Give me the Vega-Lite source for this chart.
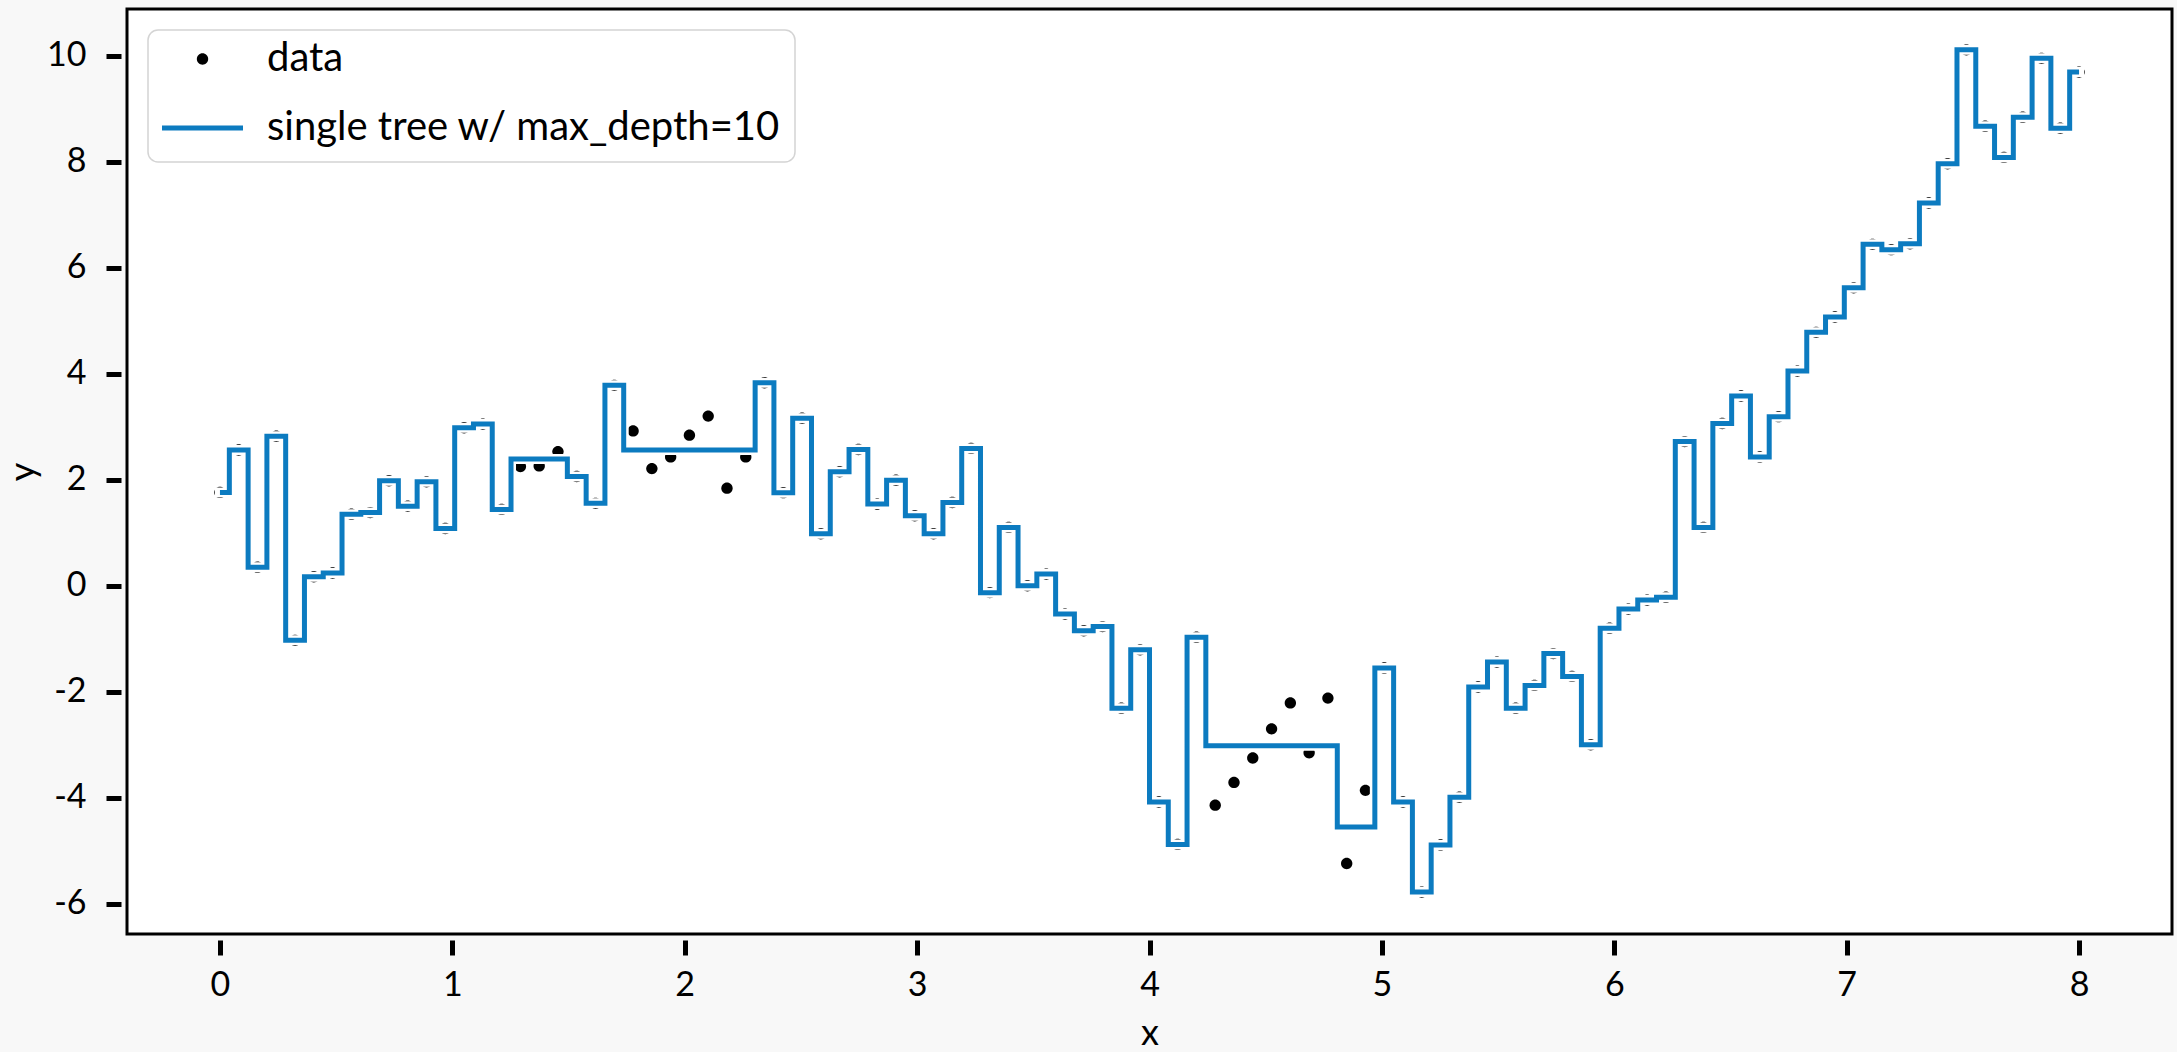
{
  "$schema": "https://vega.github.io/schema/vega-lite/v6.json",
  "width": 2045,
  "height": 925,
  "autosize": {"type": "none"},
  "padding": {"left": 127, "top": 9, "right": 5, "bottom": 118},
  "background": "#f8f8f8",
  "view": {"fill": "white", "stroke": "black", "strokeWidth": 3},
  "config": {
    "font": "Lato",
    "axis": {"domain": false, "grid": false, "ticks": true, "tickColor": "black", "tickWidth": 5, "tickSize": 15, "offset": 6,
      "labelFont": "Lato", "labelFontSize": 34, "labelColor": "black", "labelFlush": false,
      "titleFont": "Lato", "titleFontSize": 36, "titleFontWeight": "normal", "titleColor": "black"},
    "axisX": {"labelPadding": 13, "titlePadding": 14},
    "axisY": {"labelPadding": 20, "titlePadding": 4},
    "legend": {"strokeWidth": 1.5, "strokeColor": "#d4d4d4", "fillColor": "white", "cornerRadius": 10, "padding": 14}
  },
  "datasets": {
    "pts": [
      {"x": 0, "y": 1.76}, {"x": 0.0808, "y": 2.56}, {"x": 0.1616, "y": 0.35}, {"x": 0.2424, "y": 2.82}, {"x": 0.3232, "y": -1.03},
      {"x": 0.4040, "y": 0.17}, {"x": 0.4848, "y": 0.24}, {"x": 0.5657, "y": 1.35}, {"x": 0.6465, "y": 1.38}, {"x": 0.7273, "y": 1.98},
      {"x": 0.8081, "y": 1.50}, {"x": 0.8889, "y": 1.96}, {"x": 0.9697, "y": 1.08}, {"x": 1.0505, "y": 2.98}, {"x": 1.1313, "y": 3.05},
      {"x": 1.2121, "y": 1.44}, {"x": 1.2929, "y": 2.25}, {"x": 1.3737, "y": 2.26}, {"x": 1.4545, "y": 2.53}, {"x": 1.5354, "y": 2.06},
      {"x": 1.6162, "y": 1.555}, {"x": 1.6970, "y": 3.78}, {"x": 1.7778, "y": 2.92}, {"x": 1.8586, "y": 2.21}, {"x": 1.9394, "y": 2.43},
      {"x": 2.0202, "y": 2.84}, {"x": 2.1010, "y": 3.20}, {"x": 2.1818, "y": 1.84}, {"x": 2.2626, "y": 2.43}, {"x": 2.3434, "y": 3.83},
      {"x": 2.4242, "y": 1.755}, {"x": 2.5051, "y": 3.16}, {"x": 2.5859, "y": 0.98}, {"x": 2.6667, "y": 2.15}, {"x": 2.7475, "y": 2.57},
      {"x": 2.8283, "y": 1.54}, {"x": 2.9091, "y": 1.99}, {"x": 2.9899, "y": 1.32}, {"x": 3.0707, "y": 0.98}, {"x": 3.1515, "y": 1.57},
      {"x": 3.2323, "y": 2.59}, {"x": 3.3131, "y": -0.13}, {"x": 3.3939, "y": 1.10}, {"x": 3.4747, "y": 0.0}, {"x": 3.5556, "y": 0.22},
      {"x": 3.6364, "y": -0.535}, {"x": 3.7172, "y": -0.85}, {"x": 3.7980, "y": -0.77}, {"x": 3.8788, "y": -2.31}, {"x": 3.9596, "y": -1.21},
      {"x": 4.0404, "y": -4.08}, {"x": 4.1212, "y": -4.88}, {"x": 4.2020, "y": -0.97}, {"x": 4.2828, "y": -4.14}, {"x": 4.3636, "y": -3.71},
      {"x": 4.4444, "y": -3.25}, {"x": 4.5253, "y": -2.70}, {"x": 4.6061, "y": -2.21}, {"x": 4.6869, "y": -3.15}, {"x": 4.7677, "y": -2.12},
      {"x": 4.8485, "y": -5.24}, {"x": 4.9293, "y": -3.86}, {"x": 5.0101, "y": -1.55}, {"x": 5.0909, "y": -4.08}, {"x": 5.1717, "y": -5.78},
      {"x": 5.2525, "y": -4.89}, {"x": 5.3333, "y": -3.99}, {"x": 5.4141, "y": -1.91}, {"x": 5.4949, "y": -1.44}, {"x": 5.5758, "y": -2.31},
      {"x": 5.6566, "y": -1.88}, {"x": 5.7374, "y": -1.28}, {"x": 5.8182, "y": -1.71}, {"x": 5.8990, "y": -3.0}, {"x": 5.9798, "y": -0.80},
      {"x": 6.0606, "y": -0.44}, {"x": 6.1414, "y": -0.27}, {"x": 6.2222, "y": -0.215}, {"x": 6.3030, "y": 2.72}, {"x": 6.3838, "y": 1.10},
      {"x": 6.4646, "y": 3.06}, {"x": 6.5455, "y": 3.58}, {"x": 6.6263, "y": 2.43}, {"x": 6.7071, "y": 3.19}, {"x": 6.7879, "y": 4.05},
      {"x": 6.8687, "y": 4.78}, {"x": 6.9495, "y": 5.07}, {"x": 7.0303, "y": 5.62}, {"x": 7.1111, "y": 6.44}, {"x": 7.1919, "y": 6.34},
      {"x": 7.2727, "y": 6.45}, {"x": 7.3535, "y": 7.22}, {"x": 7.4343, "y": 7.96}, {"x": 7.5152, "y": 10.11}, {"x": 7.5960, "y": 8.67},
      {"x": 7.6768, "y": 8.08}, {"x": 7.7576, "y": 8.84}, {"x": 7.8384, "y": 9.95}, {"x": 7.9192, "y": 8.63}, {"x": 8.0, "y": 9.69}
    ],
    "tree": [
      {"x": 0, "y": 1.76}, {"x": 0.0404, "y": 2.56}, {"x": 0.1212, "y": 0.35}, {"x": 0.2020, "y": 2.82}, {"x": 0.2828, "y": -1.03},
      {"x": 0.3636, "y": 0.17}, {"x": 0.4444, "y": 0.24}, {"x": 0.5253, "y": 1.35}, {"x": 0.6061, "y": 1.38}, {"x": 0.6869, "y": 1.98},
      {"x": 0.7677, "y": 1.50}, {"x": 0.8485, "y": 1.96}, {"x": 0.9293, "y": 1.08}, {"x": 1.0101, "y": 2.98}, {"x": 1.0909, "y": 3.05},
      {"x": 1.1717, "y": 1.44}, {"x": 1.2525, "y": 2.39}, {"x": 1.4949, "y": 2.06}, {"x": 1.5758, "y": 1.555}, {"x": 1.6566, "y": 3.78},
      {"x": 1.7374, "y": 2.56}, {"x": 2.3030, "y": 3.83}, {"x": 2.3838, "y": 1.755}, {"x": 2.4646, "y": 3.16}, {"x": 2.5455, "y": 0.98},
      {"x": 2.6263, "y": 2.15}, {"x": 2.7071, "y": 2.57}, {"x": 2.7879, "y": 1.54}, {"x": 2.8687, "y": 1.99}, {"x": 2.9495, "y": 1.32},
      {"x": 3.0303, "y": 0.98}, {"x": 3.1111, "y": 1.57}, {"x": 3.1919, "y": 2.59}, {"x": 3.2727, "y": -0.13}, {"x": 3.3535, "y": 1.10},
      {"x": 3.4343, "y": 0.0}, {"x": 3.5152, "y": 0.22}, {"x": 3.5960, "y": -0.535}, {"x": 3.6768, "y": -0.85}, {"x": 3.7576, "y": -0.77},
      {"x": 3.8384, "y": -2.31}, {"x": 3.9192, "y": -1.21}, {"x": 4.0, "y": -4.08}, {"x": 4.0808, "y": -4.88}, {"x": 4.1616, "y": -0.97},
      {"x": 4.2424, "y": -3.02}, {"x": 4.8081, "y": -4.55}, {"x": 4.9697, "y": -1.55}, {"x": 5.0505, "y": -4.08}, {"x": 5.1313, "y": -5.78},
      {"x": 5.2121, "y": -4.89}, {"x": 5.2929, "y": -3.99}, {"x": 5.3737, "y": -1.91}, {"x": 5.4545, "y": -1.44}, {"x": 5.5354, "y": -2.31},
      {"x": 5.6162, "y": -1.88}, {"x": 5.6970, "y": -1.28}, {"x": 5.7778, "y": -1.71}, {"x": 5.8586, "y": -3.0}, {"x": 5.9394, "y": -0.80},
      {"x": 6.0202, "y": -0.44}, {"x": 6.1010, "y": -0.27}, {"x": 6.1818, "y": -0.215}, {"x": 6.2626, "y": 2.72}, {"x": 6.3434, "y": 1.10},
      {"x": 6.4242, "y": 3.06}, {"x": 6.5051, "y": 3.58}, {"x": 6.5859, "y": 2.43}, {"x": 6.6667, "y": 3.19}, {"x": 6.7475, "y": 4.05},
      {"x": 6.8283, "y": 4.78}, {"x": 6.9091, "y": 5.07}, {"x": 6.9899, "y": 5.62}, {"x": 7.0707, "y": 6.44}, {"x": 7.1515, "y": 6.34},
      {"x": 7.2323, "y": 6.45}, {"x": 7.3131, "y": 7.22}, {"x": 7.3939, "y": 7.96}, {"x": 7.4747, "y": 10.11}, {"x": 7.5556, "y": 8.67},
      {"x": 7.6364, "y": 8.08}, {"x": 7.7172, "y": 8.84}, {"x": 7.7980, "y": 9.95}, {"x": 7.8788, "y": 8.63}, {"x": 7.9596, "y": 9.69},
      {"x": 8.0, "y": 9.69}
    ]
  },
  "layer": [
    {
      "data": {"name": "pts"},
      "mark": {"type": "point", "filled": true, "size": 6561, "opacity": 1, "strokeWidth": 0},
      "encoding": {
        "x": {"field": "x", "type": "quantitative", "scale": {"domain": [-0.4, 8.4], "nice": false, "zero": false},
          "axis": {"values": [0, 1, 2, 3, 4, 5, 6, 7, 8], "title": "x", "labelExpr": "'' + datum.value"}},
        "y": {"field": "y", "type": "quantitative", "scale": {"domain": [-6.57, 10.88], "nice": false, "zero": false},
          "axis": {"values": [-6, -4, -2, 0, 2, 4, 6, 8, 10], "title": "y", "labelExpr": "'' + datum.value"}},
        "shape": {
          "datum": "data", "type": "nominal",
          "scale": {"domain": ["data", "single tree w/ max_depth=10"],
            "range": ["M-0.14,0A0.14,0.14,0,1,0,0.14,0A0.14,0.14,0,1,0,-0.14,0Z", "M-1,-0.06H1V0.06H-1Z"]},
          "legend": {
            "title": null, "orient": "none", "legendX": 21, "legendY": 21,
            "labelFont": "Lato", "labelFontSize": 40, "labelColor": "black", "labelOffset": 24, "labelLimit": 0,
            "symbolSize": 6561, "clipHeight": 30, "rowPadding": 29, "symbolStrokeWidth": 0, "symbolOpacity": 1
          }
        },
        "color": {
          "datum": "data", "type": "nominal",
          "scale": {"domain": ["data", "single tree w/ max_depth=10"], "range": ["black", "#0c7bc0"]},
          "legend": {
            "title": null, "orient": "none", "legendX": 21, "legendY": 21,
            "labelFont": "Lato", "labelFontSize": 40, "labelColor": "black", "labelOffset": 24, "labelLimit": 0,
            "symbolSize": 6561, "clipHeight": 30, "rowPadding": 29, "symbolStrokeWidth": 0, "symbolOpacity": 1
          }
        }
      }
    },
    {
      "data": {"name": "tree"},
      "mark": {"type": "line", "interpolate": "step-after", "color": "white", "strokeWidth": 10, "strokeCap": "square"},
      "encoding": {
        "x": {"field": "x", "type": "quantitative"},
        "y": {"field": "y", "type": "quantitative"}
      }
    },
    {
      "data": {"name": "tree"},
      "mark": {"type": "line", "interpolate": "step-after", "strokeWidth": 5},
      "encoding": {
        "x": {"field": "x", "type": "quantitative"},
        "y": {"field": "y", "type": "quantitative"},
        "color": {"datum": "single tree w/ max_depth=10", "type": "nominal"}
      }
    }
  ]
}
